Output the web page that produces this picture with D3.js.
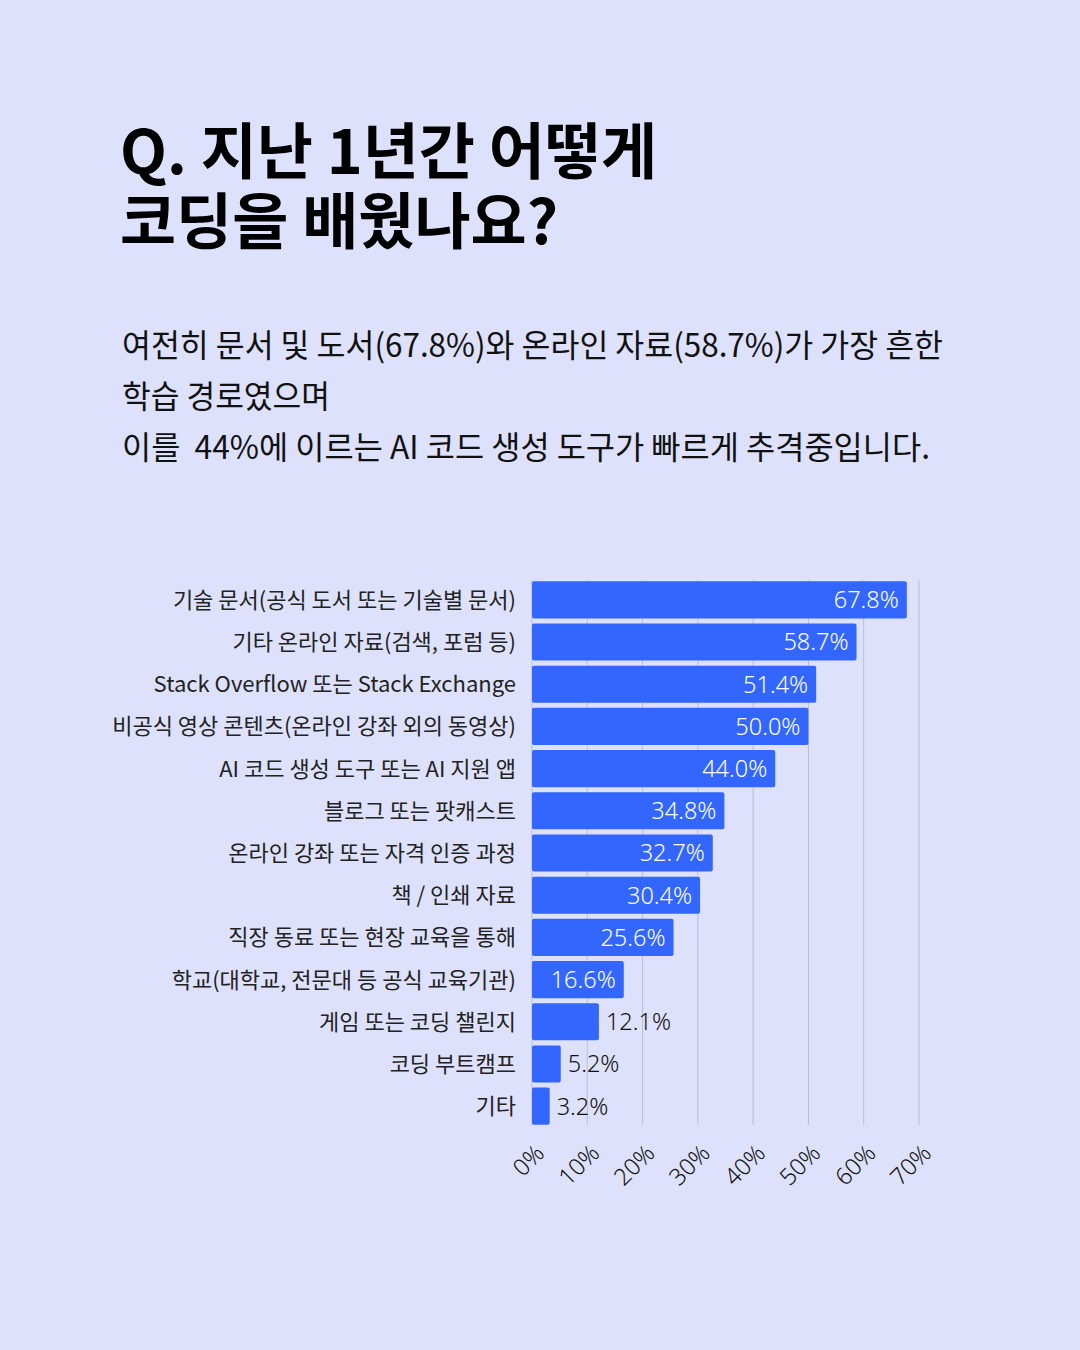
<!DOCTYPE html>
<html>
<head>
<meta charset="utf-8">
<script src="https://cdn.jsdelivr.net/npm/d3@7"></script>
<style>
  body { margin: 0; background: #dde1fb; }
  svg { display: block; }
</style>
</head>
<body>
<script>
const width = 1080;
const height = 1350;

// data
const categories = [
  "기술 문서(공식 도서 또는 기술별 문서)",
  "기타 온라인 자료(검색, 포럼 등)",
  "Stack Overflow 또는 Stack Exchange",
  "비공식 영상 콘텐츠(온라인 강좌 외의 동영상)",
  "AI 코드 생성 도구 또는 AI 지원 앱",
  "블로그 또는 팟캐스트",
  "온라인 강좌 또는 자격 인증 과정",
  "책 / 인쇄 자료",
  "직장 동료 또는 현장 교육을 통해",
  "학교(대학교, 전문대 등 공식 교육기관)",
  "게임 또는 코딩 챌린지",
  "코딩 부트캠프",
  "기타"
];
const values = [67.8, 58.7, 51.4, 50.0, 44.0, 34.8, 32.7, 30.4, 25.6, 16.6, 12.1, 5.2, 3.2];
const ticks = [0, 10, 20, 30, 40, 50, 60, 70];

const titleLines = ["Q. 지난 1년간 어떻게", "코딩을 배웠나요?"];
const subtitleLines = [
  "여전히 문서 및 도서(67.8%)와 온라인 자료(58.7%)가 가장 흔한",
  "학습 경로였으며",
  "이를  44%에 이르는 AI 코드 생성 도구가 빠르게 추격중입니다."
];
const subtitleWidths = [821, 208, 808];

const data = categories.map((c, i) => ({ category: c, value: values[i] }));

const svg = d3.select("body").append("svg").attr("width", width).attr("height", height);

svg.append("rect").attr("width", width).attr("height", height).attr("fill", "#dde1fb");

// title
svg.append("g")
  .selectAll("text")
  .data(titleLines)
  .join("text")
  .attr("x", 120)
  .attr("y", (d, i) => 174 + i * 70)
  .attr("font-family", "'Noto Sans CJK KR', 'Noto Sans', sans-serif")
  .attr("font-weight", 700)
  .attr("font-size", 61)
  .attr("fill", "#000")
  .text((d) => d);

// subtitle (condensed look)
svg.append("g")
  .selectAll("text")
  .data(subtitleLines)
  .join("text")
  .attr("x", 122)
  .attr("y", (d, i) => 357 + i * 51)
  .attr("font-family", "'Noto Sans CJK KR', sans-serif")
  .attr("font-size", 32)
  .attr("fill", "#111")
  .style("white-space", "pre")
  .attr("textLength", (d, i) => subtitleWidths[i])
  .attr("lengthAdjust", "spacingAndGlyphs")
  .text((d) => d);

// scales
const x = d3.scaleLinear().domain([0, 70]).range([532, 919]);
const y = d3.scaleBand().domain(categories).range([580, 1126]).paddingInner(0.12).paddingOuter(0.03);

// gridlines
svg.append("g")
  .selectAll("line")
  .data(ticks)
  .join("line")
  .attr("x1", (d) => x(d))
  .attr("x2", (d) => x(d))
  .attr("y1", 580)
  .attr("y2", 1125)
  .attr("stroke", "#b9bdd6")
  .attr("stroke-width", 1);

// bars
svg.append("g")
  .selectAll("rect")
  .data(data)
  .join("rect")
  .attr("x", x(0))
  .attr("y", (d) => y(d.category))
  .attr("width", (d) => x(d.value) - x(0))
  .attr("height", y.bandwidth())
  .attr("rx", 2)
  .attr("fill", "#3366ff");

// value labels
svg.append("g")
  .selectAll("text")
  .data(data)
  .join("text")
  .attr("x", (d) => d.value > 15 ? x(d.value) - 8 : x(d.value) + 7)
  .attr("y", (d) => y(d.category) + y.bandwidth() / 2)
  .attr("dy", "0.36em")
  .attr("text-anchor", (d) => d.value > 15 ? "end" : "start")
  .attr("font-family", "'Noto Sans', sans-serif")
  .attr("font-weight", 300)
  .attr("font-size", 23.5)
  .attr("fill", (d) => d.value > 15 ? "#fff" : "#111")
  .text((d) => d.value.toFixed(1) + "%");

// category labels
svg.append("g")
  .selectAll("text")
  .data(data)
  .join("text")
  .attr("x", 516)
  .attr("y", (d) => y(d.category) + y.bandwidth() / 2)
  .attr("dy", "0.36em")
  .attr("text-anchor", "end")
  .attr("font-family", "'Noto Sans CJK KR', sans-serif")
  .attr("font-size", 22)
  .attr("fill", "#222")
  .text((d) => d.category);

// x tick labels, rotated
svg.append("g")
  .selectAll("text")
  .data(ticks)
  .join("text")
  .attr("transform", (d) => `translate(${x(d) + 2},${1143}) rotate(-45)`)
  .attr("dy", "0.7em")
  .attr("text-anchor", "end")
  .attr("font-family", "'Noto Sans', sans-serif")
  .attr("font-weight", 300)
  .attr("font-size", 23.5)
  .attr("fill", "#111")
  .text((d) => d + "%");
</script>
</body>
</html>
